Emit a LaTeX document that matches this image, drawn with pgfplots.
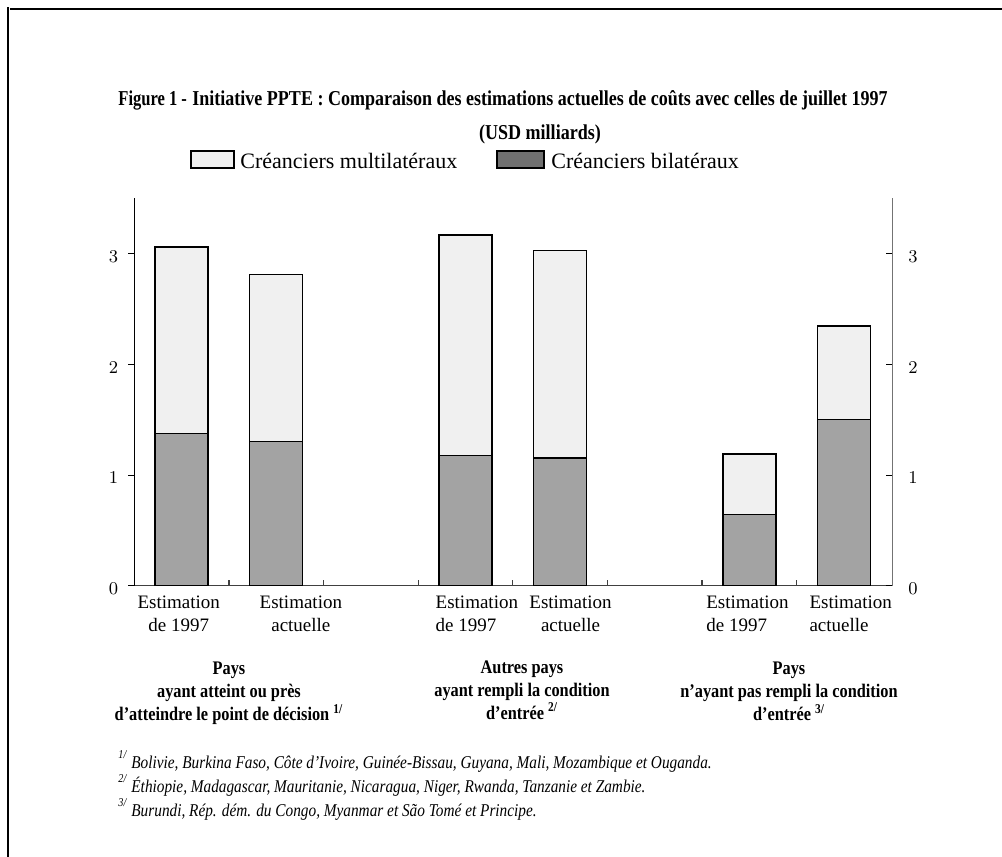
\documentclass[border=0pt]{standalone}
\usepackage{fontspec}
\setmainfont{Liberation Serif}
\newfontfamily\condfont[FakeStretch=0.85]{Liberation Serif}
\newfontfamily\narrowfont[FakeStretch=0.78]{Liberation Serif}
\usepackage{pgfplots}
\pgfplotsset{compat=1.18}
\definecolor{multi}{HTML}{F0F0F0}
\definecolor{bila}{HTML}{A3A3A3}
\definecolor{legbila}{HTML}{707070}
\begin{document}
\begin{tikzpicture}
\path[use as bounding box] (0,0) rectangle (501pt,-428.5pt);
\draw[line width=0.7pt] (4pt,-428.5pt) -- (4pt,-3.7pt);
\draw[line width=0.8pt] (5pt,-4.6pt) -- (501pt,-4.6pt);

\begin{axis}[at={(67.15pt,-292.85pt)}, anchor=south west, scale only axis,
  width=379pt, height=193.7pt,
  xmin=-0.5, xmax=7.51, ymin=0, ymax=3.5, enlargelimits=false,
  axis x line=bottom, axis y line=none,
  x axis line style={-, draw=black!75, line width=0.6pt},
  ybar stacked, bar width=26.5pt,
  xtick={0.5,1.5,2.5,3.5,4.5,5.5,6.5}, xticklabels={},
  tick align=inside, major tick length=3pt,
  tick style={draw=black!75, line width=0.6pt},
  extra x ticks={-0.03,1.26,3.12,4.11,5.98,7.07},
  extra x tick labels={
    {\begin{tabular}{@{}c@{}}Estimation\\de 1997\end{tabular}},
    {\begin{tabular}{@{}c@{}}Estimation\\actuelle\end{tabular}},
    {\begin{tabular}{@{}l@{}}Estimation\\de 1997\end{tabular}},
    {\begin{tabular}{@{}c@{}}Estimation\\actuelle\end{tabular}},
    {\begin{tabular}{@{}l@{}}Estimation\\de 1997\end{tabular}},
    {\begin{tabular}{@{}l@{}}Estimation\\actuelle\end{tabular}}},
  extra x tick style={major tick length=0pt},
  tick label style={font=\fontsize{9.5}{11.5}\selectfont},
  clip=false]
\addplot[fill=bila, draw=black, line width=0.7pt] coordinates
  {(0,1.373) (1,1.303) (3,1.176) (4,1.153) (6,0.643) (7,1.500)};
\addplot[fill=multi, draw=black, line width=0.7pt] coordinates
  {(0,1.687) (1,1.507) (3,1.994) (4,1.877) (6,0.547) (7,0.847)};
\end{axis}

\begin{axis}[at={(67.15pt,-292.85pt)}, anchor=south west, scale only axis,
  width=379pt, height=193.7pt,
  xmin=-0.5, xmax=7.51, ymin=0, ymax=3.5, enlargelimits=false,
  axis x line=none, axis y line=left,
  y axis line style={-, draw=black, line width=0.5pt},
  ytick={0,1,2,3}, tick align=outside, major tick length=3pt,
  tick style={draw=black, line width=0.5pt},
  yticklabel style={font=\fontsize{9.5}{11}\selectfont, xshift=-1.5pt, yshift=-1.5pt}]
\addplot[draw=none] coordinates {(0,0)};
\end{axis}

\begin{axis}[at={(67.15pt,-292.85pt)}, anchor=south west, scale only axis,
  width=379pt, height=193.7pt,
  xmin=-0.5, xmax=7.51, ymin=0, ymax=3.5, enlargelimits=false,
  axis x line=none, axis y line=right,
  y axis line style={-, draw=black!55, line width=0.6pt},
  ytick={0,1,2,3}, tick align=inside, major tick length=3pt,
  tick style={draw=black, line width=0.5pt},
  yticklabel style={font=\fontsize{9.5}{11}\selectfont, xshift=4.5pt, yshift=-1.5pt}]
\addplot[draw=none] coordinates {(0,0)};
\end{axis}

\begin{scope}[x=0.5pt, y=-0.5pt]
\node[anchor=base west, inner sep=0, font=\narrowfont\bfseries\fontsize{10.6}{12}\selectfont] at (118,105) {Figure 1 -};
\node[anchor=base west, inner sep=0, font=\condfont\bfseries\fontsize{10.6}{12}\selectfont] at (192,105) {Initiative PPTE : Comparaison des estimations actuelles de coûts avec celles de juillet 1997};
\node[anchor=base, inner sep=0, font=\condfont\bfseries\fontsize{10.6}{12}\selectfont] at (540,139) {(USD milliards)};

\draw[fill=multi, line width=0.6pt] (191,151) rectangle (234,168);
\node[anchor=base west, inner sep=0, font=\fontsize{11}{13}\selectfont] at (240,168) {Créanciers multilatéraux};
\draw[fill=legbila, line width=0.6pt] (497,151) rectangle (544,168);
\node[anchor=base west, inner sep=0, font=\fontsize{11}{13}\selectfont] at (551,168) {Créanciers bilatéraux};

\node[anchor=north, align=center, inner sep=0, font=\condfont\bfseries\fontsize{9.6}{11.5}\selectfont] at (229,662) {Pays\\ayant atteint ou près\\d’atteindre le point de décision \textsuperscript{1/}};
\node[anchor=north, align=center, inner sep=0, font=\condfont\bfseries\fontsize{9.6}{11.5}\selectfont] at (522,660) {Autres pays\\ayant rempli la condition\\d’entrée \textsuperscript{2/}};
\node[anchor=north, align=center, inner sep=0, font=\condfont\bfseries\fontsize{9.6}{11.5}\selectfont] at (789,662) {Pays\\n’ayant pas rempli la condition\\d’entrée \textsuperscript{3/}};

\node[anchor=base west, inner sep=0, font=\condfont\itshape\fontsize{6}{7}\selectfont] at (118,758) {1/};
\node[anchor=base west, inner sep=0, font=\condfont\itshape\fontsize{9}{10}\selectfont] at (131,768) {Bolivie, Burkina Faso, Côte d’Ivoire, Guinée-Bissau, Guyana, Mali, Mozambique et Ouganda.};
\node[anchor=base west, inner sep=0, font=\condfont\itshape\fontsize{6}{7}\selectfont] at (118,782) {2/};
\node[anchor=base west, inner sep=0, font=\condfont\itshape\fontsize{9}{10}\selectfont] at (131,792) {Éthiopie, Madagascar, Mauritanie, Nicaragua, Niger, Rwanda, Tanzanie et Zambie.};
\node[anchor=base west, inner sep=0, font=\condfont\itshape\fontsize{6}{7}\selectfont] at (118,806) {3/};
\node[anchor=base west, inner sep=0, font=\condfont\itshape\fontsize{9}{10}\selectfont] at (131,816) {Burundi, Rép. dém. du Congo, Myanmar et São Tomé et Principe.};
\end{scope}
\end{tikzpicture}
\end{document}
